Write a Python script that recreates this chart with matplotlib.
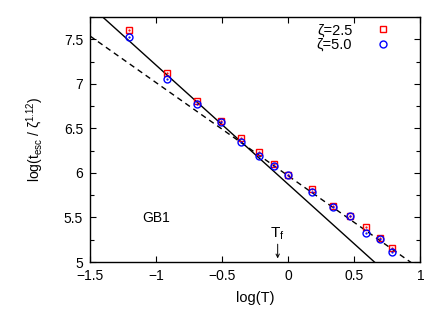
import matplotlib.pyplot as plt
from matplotlib import ticker

plt.rcParams['font.family'] = ['Liberation Sans', 'DejaVu Sans']
plt.rcParams['mathtext.fontset'] = 'custom'
plt.rcParams['mathtext.rm'] = 'Liberation Sans'
plt.rcParams['mathtext.it'] = 'Liberation Sans'
plt.rcParams['font.size'] = 10

# log(T) values of the simulated temperatures
logT = [-1.204, -0.916, -0.693, -0.511, -0.357, -0.223, -0.105,
        0.0, 0.182, 0.336, 0.470, 0.588, 0.693, 0.788]
# scaled escape times for the two zeta values
zeta25 = [7.607, 7.121, 6.807, 6.585, 6.388, 6.238, 6.103,
          5.98, 5.823, 5.625, 5.516, 5.393, 5.275, 5.154]
zeta50 = [7.525, 7.057, 6.770, 6.570, 6.350, 6.186, 6.077,
          5.975, 5.786, 5.620, 5.512, 5.329, 5.260, 5.112]

# fitted straight lines: (slope, intercept)
fit_solid = (-1.3375, 5.872)
fit_dashed = (-1.0466, 5.967)
Tf = -0.08

fig = plt.figure(figsize=(4.43, 3.10), dpi=100)
ax = fig.add_axes([0.2032, 0.1548, 0.7458, 0.7903])

xs = [-1.5, 1.0]
ax.plot(xs, [fit_solid[0] * x + fit_solid[1] for x in xs], 'k-', lw=1.0)
ax.plot(xs, [fit_dashed[0] * x + fit_dashed[1] for x in xs], 'k--', lw=1.0,
        dashes=(4, 3))

ax.plot(logT, zeta25, 's', ms=4.8, mfc='none', mec='red', mew=1.0,
        label='ζ=2.5')
ax.plot(logT, zeta25, '.', ms=1.2, color='red')
ax.plot(logT, zeta50, 'o', ms=5, mfc='none', mec='blue', mew=1.0,
        label='ζ=5.0')
ax.plot(logT, zeta50, '.', ms=1.2, color='blue')

ax.text(-1.108, 5.49, 'GB1', ha='left', va='center')
ax.annotate('', xy=(Tf, 5.04), xytext=(Tf, 5.2),
            arrowprops=dict(arrowstyle='->', lw=0.7, color='k',
                            shrinkA=0, shrinkB=0, mutation_scale=6))
ax.text(Tf, 5.22, r'T$_{\rm f}$', ha='center', va='bottom', fontsize=11)

ax.set_xlim(-1.5, 1.0)
ax.set_ylim(5.0, 7.75)
ax.xaxis.set_major_locator(ticker.MultipleLocator(0.5))
ax.yaxis.set_major_locator(ticker.MultipleLocator(0.5))
ax.yaxis.set_minor_locator(ticker.MultipleLocator(0.25))
fmt = ticker.FuncFormatter(lambda v, p: ('%g' % v).replace('-', '\u2212'))
ax.xaxis.set_major_formatter(fmt)
ax.yaxis.set_major_formatter(fmt)
ax.tick_params(which='both', direction='in', top=True, right=True,
               width=0.8, labelsize=10)
ax.tick_params(which='major', length=4, pad=5)
ax.tick_params(which='minor', length=3)
for s in ax.spines.values():
    s.set_linewidth(1.0)

ax.set_xlabel('log(T)', labelpad=6, fontsize=10.5)
ax.set_ylabel(r'log(t$_{\rm esc}$ / ζ$^{1.12}$)', labelpad=13)

handles, labels = ax.get_legend_handles_labels()
ax.legend(handles, labels, loc='upper right', frameon=False,
          bbox_to_anchor=(0.935, 1.01), fontsize=10.5,
          markerfirst=False, handlelength=1.0, handletextpad=1.6,
          labelspacing=0.05, borderaxespad=0.3, borderpad=0.3)

fig.savefig('out.png', dpi=100)
